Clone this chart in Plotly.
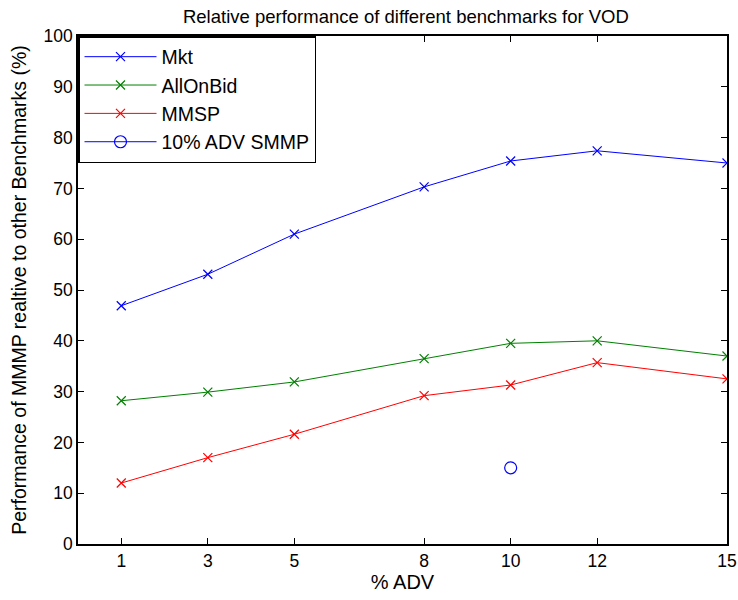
import plotly.graph_objects as go

adv = [1, 3, 5, 8, 10, 12, 15]
mkt = [46.9, 53.1, 61.0, 70.3, 75.4, 77.4, 75.0]
allonbid = [28.2, 29.9, 31.9, 36.5, 39.5, 40.0, 37.0]
mmsp = [12.0, 17.0, 21.6, 29.2, 31.3, 35.7, 32.5]
smmp_x = [10]
smmp_y = [15.0]

FONT = "Liberation Sans, Arial, Helvetica, sans-serif"

fig = go.Figure()
fig.add_trace(go.Scatter(x=adv, y=mkt, name="Mkt", mode="lines+markers",
                         line=dict(color="#0000ff", width=1),
                         marker=dict(symbol="x-thin", size=9, line=dict(color="#0000ff", width=1.2))))
fig.add_trace(go.Scatter(x=adv, y=allonbid, name="AllOnBid", mode="lines+markers",
                         line=dict(color="#008000", width=1),
                         marker=dict(symbol="x-thin", size=9, line=dict(color="#008000", width=1.2))))
fig.add_trace(go.Scatter(x=adv, y=mmsp, name="MMSP", mode="lines+markers",
                         line=dict(color="#ff0000", width=1),
                         marker=dict(symbol="x-thin", size=9, line=dict(color="#ff0000", width=1.2))))
fig.add_trace(go.Scatter(x=smmp_x, y=smmp_y, name="10% ADV SMMP", mode="lines+markers",
                         line=dict(color="#0000ff", width=1),
                         marker=dict(symbol="circle-open", size=12, color="#0000ff", line=dict(width=1.2))))

axis_common = dict(showline=True, linecolor="black", linewidth=1.5, mirror="ticks",
                   ticks="inside", ticklen=6, tickcolor="black", tickwidth=1,
                   showgrid=False, zeroline=False, automargin=False,
                   tickfont=dict(family=FONT, size=17.5, color="black"))

fig.update_layout(
    width=738, height=600,
    margin=dict(l=78, r=11, t=36, b=56),
    paper_bgcolor="white", plot_bgcolor="white",
    title=dict(text="Relative performance of different benchmarks for VOD",
               x=0.55, xanchor="center", y=0.973, yanchor="middle",
               font=dict(family=FONT, size=18.5, color="black")),
    xaxis=dict(range=[0, 15], tickvals=adv, ticktext=[str(v) for v in adv],
               title=dict(text="% ADV", font=dict(family=FONT, size=20, color="black"), standoff=2),
               **axis_common),
    yaxis=dict(range=[0, 100], tickvals=list(range(0, 101, 10)),
               title=dict(text="Performance of MMMP realtive to other Benchmarks (%)",
                          font=dict(family=FONT, size=19.5, color="black"), standoff=12),
               **axis_common),
    legend=dict(x=0, y=1, xanchor="left", yanchor="top", itemwidth=72,
                bgcolor="white", bordercolor="black", borderwidth=1.5,
                font=dict(family=FONT, size=19.5, color="black")),
)

fig.write_html("out.html", config={"displayModeBar": False},
               post_script="document.body.style.margin='0px';")
